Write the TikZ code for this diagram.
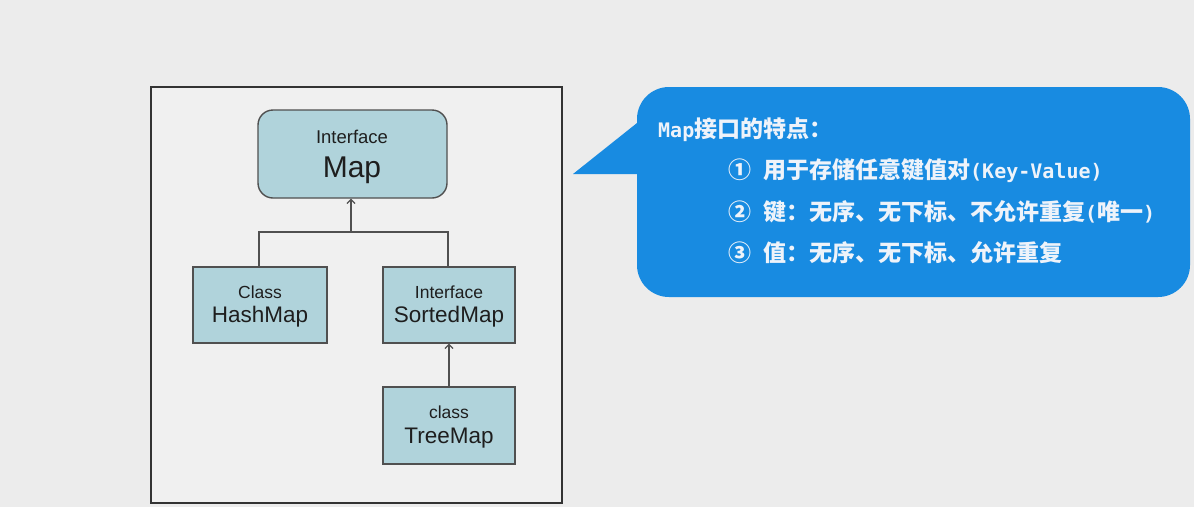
\documentclass[tikz,border=0pt]{standalone}
\usepackage{fontspec}
\setmainfont{Liberation Sans}
\newfontfamily\cjk{Noto Sans CJK SC}
\newfontfamily\mono{DejaVu Sans Mono}
\usetikzlibrary{arrows.meta}
\definecolor{bgc}{HTML}{ECECEC}
\definecolor{panelc}{HTML}{F0F0F0}
\definecolor{boxc}{RGB}{176,211,219}
\definecolor{edgec}{HTML}{505050}
\definecolor{bluec}{RGB}{24,139,225}
\definecolor{txtc}{HTML}{EEF3FA}
\definecolor{dark}{HTML}{1E1E1E}
\tikzset{
  umlbox/.style={draw=edgec, line width=1.4pt, fill=boxc, inner sep=0pt},
  small/.style={anchor=base, text=dark, font=\fontsize{17.5}{18}\selectfont},
  big/.style={anchor=base, text=dark, font=\fontsize{22.5}{24}\selectfont},
  link/.style={draw=edgec, line width=1.4pt},
  inherit/.style={link, -{Straight Barb[length=4pt,width=8pt,line width=1.2pt]}},
  calltext/.style={anchor=base west, text=txtc, inner sep=0pt, font=\cjk\bfseries\fontsize{23}{24}\selectfont},
}
\newcommand{\mtx}[1]{{\mono\bfseries\fontsize{20}{20}\selectfont #1}}
\begin{document}
\begin{tikzpicture}[x=1pt,y=-1pt]
\useasboundingbox (0,0) rectangle (1194,507);
\fill[bgc] (0,0) rectangle (1194,507);
% left panel
\draw[draw=black!80, line width=1.3pt, fill=panelc] (151,87) rectangle (562,503);
% boxes
\node[umlbox, rounded corners=15pt, minimum width=189pt, minimum height=88pt] (map) at (352.5,154) {};
\node[umlbox, minimum width=134pt, minimum height=76pt] (hash) at (260,305) {};
\node[umlbox, minimum width=132pt, minimum height=76pt] (sorted) at (449,305) {};
\node[umlbox, minimum width=132pt, minimum height=77pt] (tree) at (449,425.5) {};
% labels
\node[small, font=\fontsize{18.5}{19}\selectfont] (mapk) at (352,143) {Interface};
\node[anchor=base, text=dark, font=\fontsize{30}{32}\selectfont] (mapn) at (352,177) {Map};
\node[small] (hashk) at (260,298) {Class};
\node[big] (hashn) at (260,322) {HashMap};
\node[small] (sortk) at (449,298) {Interface};
\node[big] (sortn) at (449,322) {SortedMap};
\node[small] (treek) at (449,418) {class};
\node[big] (treen) at (449,443) {TreeMap};
% connectors
\coordinate (junc) at (351,232);
\draw[link] (hash.north -| 259,0) |- (junc) -| (sorted.north -| 448,0);
\draw[inherit] (junc) -- (map.south -| junc);
\draw[inherit] (tree.north) -- (sorted.south);
% callout
\fill[bluec, rounded corners=32pt] (637,87) rectangle (1190,297);
\fill[bluec] (573,174) -- (637,123) -- (660,123) -- (660,174) -- cycle;
\node[calltext] (title) at (658,137) {\mtx{Map}接口的特点：};
\node[calltext] (l1) at (728,178) {①\hspace{12pt}用于存储任意键值对\mtx{(Key-Value)}};
\node[calltext] (l2) at (728,220) {②\hspace{12pt}键：无序、无下标、不允许重复\mtx{(}唯一\mtx{)}};
\node[calltext] (l3) at (728,261) {③\hspace{12pt}值：无序、无下标、允许重复};
\end{tikzpicture}
\end{document}
